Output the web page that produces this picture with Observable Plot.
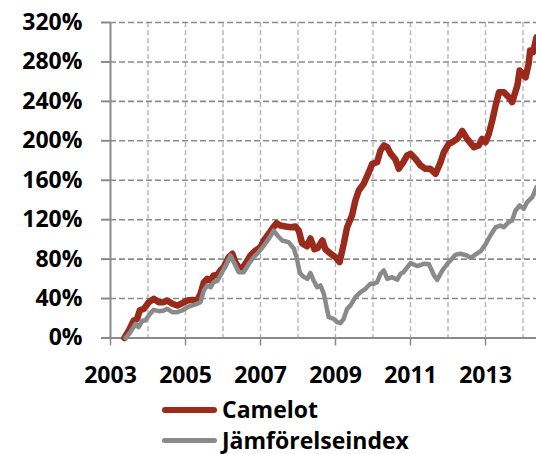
<!DOCTYPE html>
<html><head><meta charset="utf-8">
<script src="https://cdn.jsdelivr.net/npm/d3@7"></script>
<script src="https://cdn.jsdelivr.net/npm/@observablehq/plot@0.6"></script>
<style>
body{margin:0;background:#fff;font-family:"Open Sans",sans-serif;}
#legend{margin-left:162px;font-weight:700;font-size:23px;color:#000;margin-top:-2px;line-height:1}
.row{display:flex;align-items:center;height:33px}
.row + .row{height:28px}
.sw{width:55px;height:6px;border-radius:3px;margin-right:5px}
</style></head><body><div id="chart"></div><div id="legend"></div>
<script>
const seriesNames = ["Camelot", "Jämförelseindex"];
const seriesColors = ["#9a2a1b", "#8a8a8a"];
const yTicks = [0, 40, 80, 120, 160, 200, 240, 280, 320];
const xTickYears = [2003, 2005, 2007, 2009, 2011, 2013];
const gridYears = [2004, 2005, 2006, 2007, 2008, 2009, 2010, 2011, 2012, 2013, 2014];

const camelotYears = [2003.37,2003.49,2003.62,2003.71,2003.78,2003.89,2004.02,2004.15,2004.29,2004.42,2004.51,2004.65,2004.78,2004.91,2005.05,2005.18,2005.31,2005.40,2005.49,2005.58,2005.67,2005.75,2005.85,2005.93,2006.02,2006.15,2006.25,2006.33,2006.47,2006.60,2006.73,2006.87,2007.00,2007.09,2007.22,2007.31,2007.43,2007.53,2007.67,2007.80,2007.93,2008.02,2008.11,2008.24,2008.33,2008.44,2008.52,2008.65,2008.73,2008.87,2009.00,2009.11,2009.22,2009.31,2009.44,2009.53,2009.62,2009.75,2009.89,2009.98,2010.11,2010.20,2010.29,2010.38,2010.47,2010.60,2010.69,2010.78,2010.91,2011.00,2011.13,2011.27,2011.40,2011.53,2011.67,2011.80,2011.89,2012.02,2012.11,2012.25,2012.38,2012.51,2012.69,2012.82,2012.91,2013.00,2013.09,2013.18,2013.27,2013.36,2013.49,2013.62,2013.71,2013.85,2013.91,2014.07,2014.15,2014.19,2014.27,2014.36];
const camelotValues = [0,7.6,17.7,19.5,28,29.6,36.3,39.7,36.3,36.3,38,34.7,33,35.3,38,38.7,38,44.8,56.6,60,58.3,63.4,64,68.5,71.8,82,85.4,76.9,68.5,75.3,83.7,88.8,92.1,98.9,105.7,110.8,116.5,114.1,113.1,112.4,113.1,109,96,93,101,90,91,99,90,85.4,82,77,95.5,112.4,124.3,139.5,149.6,156.4,168.2,176.7,178.3,190.2,195.3,193.6,187,181,171.6,176.7,185.1,186.8,181.8,175,171.6,171.6,166.5,178.3,188.5,197,198.6,202,210,202,193.6,195.3,202,198.6,207.1,220.6,235.8,249.3,249.3,244.2,239.2,256.1,271.3,264.5,278.1,291.6,289.9,305];

const indexYears = [2003.40,2003.53,2003.67,2003.75,2003.85,2003.93,2004.02,2004.15,2004.29,2004.42,2004.51,2004.65,2004.78,2004.91,2005.05,2005.18,2005.31,2005.40,2005.49,2005.58,2005.67,2005.75,2005.85,2005.93,2006.07,2006.20,2006.31,2006.42,2006.55,2006.69,2006.82,2006.95,2007.09,2007.22,2007.35,2007.45,2007.58,2007.75,2007.89,2007.96,2008.05,2008.15,2008.25,2008.33,2008.42,2008.51,2008.60,2008.69,2008.78,2008.82,2008.95,2009.05,2009.13,2009.22,2009.31,2009.40,2009.53,2009.67,2009.80,2009.93,2010.02,2010.11,2010.20,2010.29,2010.38,2010.51,2010.65,2010.73,2010.82,2011.00,2011.18,2011.35,2011.49,2011.62,2011.71,2011.85,2012.02,2012.20,2012.33,2012.51,2012.60,2012.87,2013.00,2013.13,2013.27,2013.40,2013.49,2013.62,2013.71,2013.80,2013.91,2014.02,2014.11,2014.25,2014.36];
const indexValues = [0,5.9,14.4,11,17.7,17.7,22.8,28.6,27.2,27.9,29.6,26.2,26.2,27.9,31.2,33,34.7,36.3,48.2,53.3,51.5,56.6,58,63.4,73.5,83.7,75.3,66.7,66.7,75.3,82,87,93.8,100.6,109,104,98.9,97.2,90.5,82,66,62,60,66,58,51.5,53.3,44.8,27.9,21.1,19.5,16,15,19.5,29.6,33,41.4,46.5,49.9,55,55,56.6,65.1,68.5,60,61.7,59,65,67,76,73,75.3,75,64,59,68.5,76.9,84.5,85.4,83.7,81.3,88,95,104,112.4,114.1,112.4,117.5,119.2,129.3,134.4,131,137.7,142.8,153];

const camelot = camelotYears.map((y, i) => ({year: y, value: camelotValues[i]}));
const jmf = indexYears.map((y, i) => ({year: y, value: indexValues[i]}));

const chart = Plot.plot({
  width: 536, height: 395,
  marginLeft: 110, marginRight: 0, marginTop: 22, marginBottom: 57.5,
  x: {domain: [2003, 2014.36]},
  y: {domain: [0, 320]},
  style: {fontFamily: "'Open Sans', sans-serif", fontSize: "23px", fontWeight: 700, color: "#000", background: "white", overflow: "visible"},
  marks: [
    Plot.ruleX(gridYears, {stroke: "#b0b0b0", strokeWidth: 1.3, strokeDasharray: "5,3"}),
    Plot.ruleY(yTicks.filter(d => d > 0), {stroke: "#8a8a8a", strokeWidth: 1.6, strokeDasharray: "6,3"}),
    Plot.ruleX([2003], {stroke: "#8a8a8a", strokeWidth: 2}),
    Plot.ruleY([0], {stroke: "#8a8a8a", strokeWidth: 2}),
    Plot.axisY(yTicks, {tickSize: 9, tickPadding: 19, stroke: "#8a8a8a", strokeWidth: 2, tickFormat: d => d + "%", label: null, fill: "#000"}),
    Plot.axisX(xTickYears, {tickSize: 8, tickPadding: 21, stroke: "#8a8a8a", strokeWidth: 1.5, tickFormat: d => String(d), label: null, fill: "#000"}),
    Plot.line(camelot, {x: "year", y: "value", stroke: seriesColors[0], strokeWidth: 6.5, strokeLinejoin: "round", strokeLinecap: "round"}),
    Plot.line(jmf, {x: "year", y: "value", stroke: seriesColors[1], strokeWidth: 4.5, strokeLinejoin: "round", strokeLinecap: "round"})
  ]
});
document.getElementById("chart").appendChild(chart);

const legend = document.getElementById("legend");
seriesNames.forEach((name, i) => {
  const row = document.createElement("div");
  row.className = "row";
  const sw = document.createElement("span");
  sw.className = "sw";
  sw.style.background = seriesColors[i];
  sw.style.height = i === 0 ? "6px" : "5px";
  const t = document.createElement("span");
  t.textContent = name;
  row.appendChild(sw); row.appendChild(t);
  legend.appendChild(row);
});
</script>
</body></html>
